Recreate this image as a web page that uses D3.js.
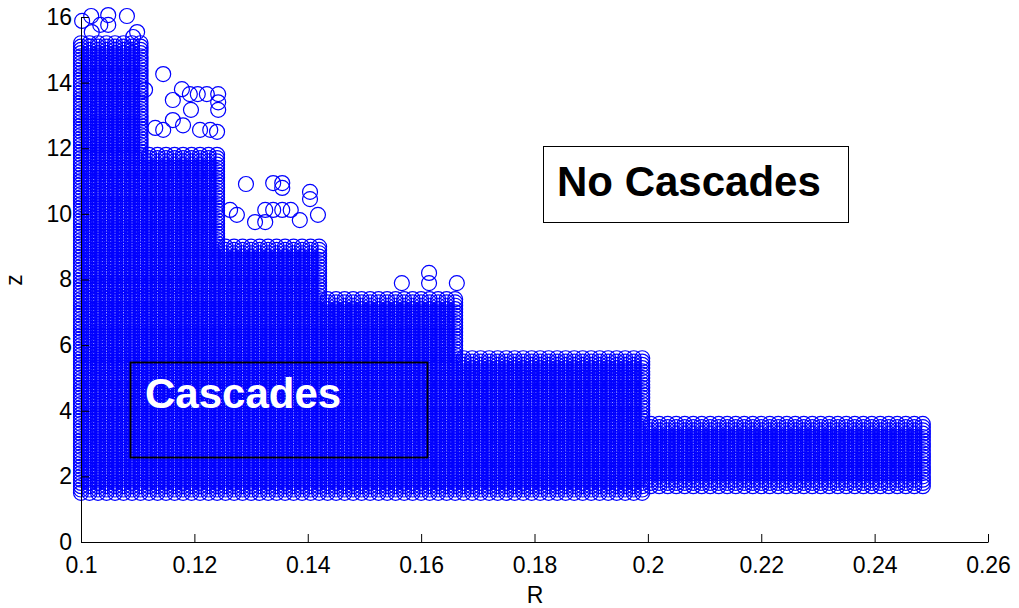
<!DOCTYPE html>
<html lang="en">
  <head>
    <meta charset="UTF-8" />
    <title>cascades</title>
    <script src="https://cdn.jsdelivr.net/npm/d3@7"></script>
    <style>
      body { margin: 0; background: #fff; }
      svg text { font-family: "Liberation Sans", Arial, Helvetica, sans-serif; }
    </style>
  </head>
  <body>
    <svg width="1019" height="608"></svg>
  </body>

  <script>
    // parameter sweep: each step region is a block of grid points (R, z)
    var stepFromR = [0.1000, 0.1120, 0.1255, 0.1435, 0.1675, 0.2005];
    var stepToR = [0.1105, 0.1240, 0.1420, 0.1660, 0.1990, 0.2485];
    var stepTopZ = [15.2, 11.8, 9.0, 7.4, 5.6, 3.6];
    var stepBottomZ = [1.5, 1.5, 1.5, 1.5, 1.5, 1.7];
    var gridStepR = 0.0015;
    var gridStepZ = 0.1;

    // scattered points above the blocks
    var outR = [0.1002, 0.1018, 0.1048, 0.1081, 0.1048, 0.1034, 0.1099, 0.1092, 0.1019,
      0.1145, 0.1113, 0.1178, 0.1192, 0.1206, 0.1222, 0.1242, 0.1242, 0.1242, 0.1162, 0.1194,
      0.1162, 0.1131, 0.1145, 0.1180, 0.1210, 0.1228, 0.1240,
      0.1291, 0.1339, 0.1355, 0.1355, 0.1404, 0.1404, 0.1418, 0.1325, 0.1339, 0.1355, 0.1370,
      0.1275, 0.1307, 0.1325, 0.1386, 0.1263,
      0.1566, 0.1614, 0.1614, 0.1663];
    var outZ = [15.88, 16.03, 16.06, 16.03, 15.76, 15.76, 15.54, 15.39, 15.54,
      14.26, 13.78, 13.80, 13.65, 13.65, 13.65, 13.65, 13.40, 13.17, 13.47, 13.17,
      12.86, 12.62, 12.56, 12.70, 12.56, 12.56, 12.50,
      10.91, 10.94, 10.94, 10.79, 10.67, 10.45, 9.97, 10.12, 10.12, 10.12, 10.12,
      9.97, 9.75, 9.75, 9.81, 10.12,
      7.89, 8.20, 7.89, 7.89];

    var xTicks = [0.1, 0.12, 0.14, 0.16, 0.18, 0.2, 0.22, 0.24, 0.26];
    var yTicks = [0, 2, 4, 6, 8, 10, 12, 14, 16];

    var svg = d3.select('svg');

    var x = d3.scaleLinear().domain([0.1, 0.26]).range([81, 988]);
    var y = d3.scaleLinear().domain([0, 16]).range([542, 17]);

    // build the grid points of every region
    var points = [];
    stepFromR.forEach(function (r0, i) {
      var nR = Math.round((stepToR[i] - r0) / gridStepR);
      var nZ = Math.round((stepTopZ[i] - stepBottomZ[i]) / gridStepZ);
      for (var a = 0; a <= nR; a++) {
        for (var b = 0; b <= nZ; b++) {
          points.push([r0 + a * gridStepR, stepBottomZ[i] + b * gridStepZ]);
        }
      }
    });
    outR.forEach(function (r, i) {
      points.push([r, outZ[i]]);
    });

    svg.append('g')
      .selectAll('circle')
      .data(points)
      .enter()
      .append('circle')
      .attr('cx', function (d) { return x(d[0]); })
      .attr('cy', function (d) { return y(d[1]); })
      .attr('r', 7.5)
      .attr('fill', 'none')
      .attr('stroke', '#0000ff')
      .attr('stroke-width', 1.2);

    // axes (ticks point inward)
    var axisX = d3.axisBottom(x)
      .tickValues(xTicks)
      .tickSizeInner(-8)
      .tickSizeOuter(0)
      .tickPadding(15)
      .tickFormat(function (d) { return String(+d.toFixed(2)); });
    var axisY = d3.axisLeft(y)
      .tickValues(yTicks)
      .tickSizeInner(-8)
      .tickSizeOuter(0)
      .tickPadding(9);

    var gx = svg.append('g').attr('transform', 'translate(0,542)').call(axisX);
    var gy = svg.append('g').attr('transform', 'translate(81,0)').call(axisY);
    [gx, gy].forEach(function (g) {
      g.attr('font-size', 23).attr('font-family', '"Liberation Sans", Arial, sans-serif');
      g.selectAll('text').attr('fill', '#000');
      g.selectAll('line, path').attr('stroke', '#000');
    });

    svg.append('text')
      .attr('x', 535).attr('y', 603)
      .attr('text-anchor', 'middle')
      .attr('font-size', 23)
      .text('R');
    svg.append('text')
      .attr('transform', 'translate(22,280) rotate(-90)')
      .attr('text-anchor', 'middle')
      .attr('font-size', 23)
      .text('z');

    // annotations
    svg.append('rect')
      .attr('x', 543.5).attr('y', 146.5)
      .attr('width', 305).attr('height', 76)
      .attr('fill', '#fff').attr('stroke', '#000');
    svg.append('text')
      .attr('x', 557).attr('y', 196)
      .attr('font-size', 42).attr('font-weight', 'bold')
      .text('No Cascades');

    svg.append('rect')
      .attr('x', 130.5).attr('y', 362.5)
      .attr('width', 297).attr('height', 95)
      .attr('fill', 'none').attr('stroke', '#000')
      .attr('stroke-width', 1.8);
    svg.append('text')
      .attr('x', 145).attr('y', 408)
      .attr('font-size', 42).attr('font-weight', 'bold')
      .attr('fill', '#fff')
      .text('Cascades');
  </script>
</html>
